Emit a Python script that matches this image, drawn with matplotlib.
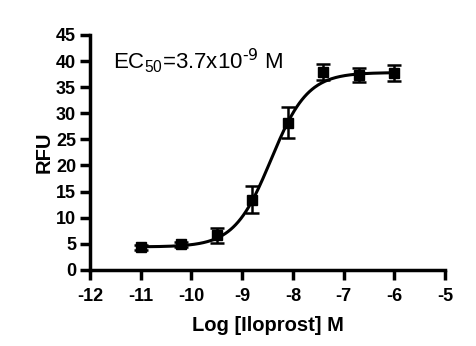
import numpy as np
import matplotlib
matplotlib.use('Agg')
import matplotlib.pyplot as plt

plt.rcParams['font.family'] = ['Liberation Sans', 'DejaVu Sans']
plt.rcParams['mathtext.default'] = 'regular'
plt.rcParams['axes.unicode_minus'] = False

# data
log_conc = [-11.0, -10.2, -9.5, -8.8, -8.1, -7.4, -6.7, -6.0]
rfu = [4.3, 4.9, 6.6, 13.4, 28.2, 37.9, 37.3, 37.7]
rfu_err = [0.4, 0.5, 1.4, 2.6, 3.0, 1.5, 1.3, 1.5]

# 4PL fit parameters
bottom = 4.4
top = 37.8
log_ec50 = np.log10(3.7e-9)
hill = 1.2

fig = plt.figure(figsize=(4.76, 3.46), dpi=100)
ax = fig.add_axes([0.189, 0.22, 0.746, 0.679])

xfit = np.linspace(min(log_conc), max(log_conc), 300)
yfit = bottom + (top - bottom) / (1 + 10 ** ((log_ec50 - xfit) * hill))
ax.plot(xfit, yfit, color='black', lw=2.2)

ax.errorbar(log_conc, rfu, yerr=rfu_err, fmt='s', color='black', ms=7,
            elinewidth=1.8, capsize=5, capthick=1.8)

ax.set_xlim(-12, -5)
ax.set_ylim(0, 45)
ax.set_xticks(np.arange(-12, -4, 1))
ax.set_yticks(np.arange(0, 50, 5))
for s in ['top', 'right']:
    ax.spines[s].set_visible(False)
for s in ['left', 'bottom']:
    ax.spines[s].set_linewidth(2.5)
ax.tick_params(width=2.5, length=7, labelsize=13, pad=3)
ax.tick_params(axis='x', pad=6)
for lab in ax.get_xticklabels() + ax.get_yticklabels():
    lab.set_fontweight('bold')

ax.set_xlabel('Log [Iloprost] M', fontsize=14.5, fontweight='bold', labelpad=8)
ax.set_ylabel('RFU', fontsize=14.5, fontweight='bold', labelpad=2)

ax.text(-11.55, 40, r'EC$_{50}$=3.7x10$^{\text{-9}}$ M', fontsize=16, va='center')

fig.savefig('out.png', dpi=100)
